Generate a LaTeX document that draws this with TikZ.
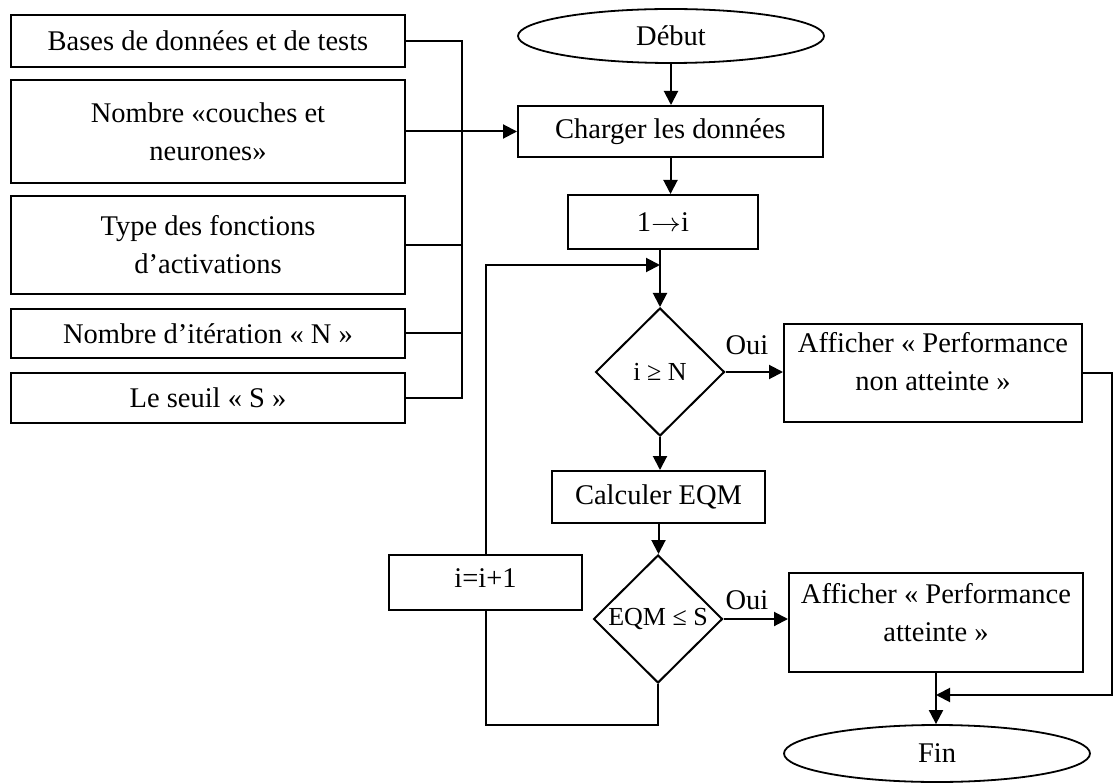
\documentclass[tikz,border=0pt]{standalone}
\usepackage{fontspec}
\setmainfont{Liberation Serif}
\usetikzlibrary{shapes.geometric,arrows.meta}

\begin{document}
\begin{tikzpicture}[x=1pt,y=-1pt,
  every node/.style={font=\fontsize{28.5}{38}\selectfont},
  box/.style={draw,line width=2pt,rectangle,inner sep=0pt,align=center},
  inbox/.style={box,minimum width=394pt},
  term/.style={draw,line width=1.8pt,ellipse,inner sep=0pt,minimum width=306pt,minimum height=54pt},
  test/.style={draw,line width=2pt,diamond,inner sep=0pt,minimum width=129pt,minimum height=128pt,
               font=\fontsize{26}{30}\selectfont},
  tag/.style={inner sep=0pt},
  link/.style={line width=2pt},
  flow/.style={line width=2pt,-{Triangle[length=14pt,width=14pt]}}
]
\useasboundingbox (0,0) rectangle (1113,783);

% input parameters
\node[inbox,minimum height=52pt]  (b1) at (208,41)    {Bases de données et de tests};
\node[inbox,minimum height=103pt] (b2) at (208,131.5) {Nombre «couches et\\neurones»};
\node[inbox,minimum height=98pt]  (b3) at (208,245)   {Type des fonctions\\d’activations};
\node[inbox,minimum height=49pt]  (b4) at (208,333.5) {Nombre d’itération « N »};
\node[inbox,minimum height=50pt]  (b5) at (208,398)   {Le seuil « S »};

% main flow
\node[term] (debut) at (671,36) {Début};
\node[box,minimum width=305pt,minimum height=51pt] (charger) at (670.5,131.5) {Charger les données};
\node[box,minimum width=190pt,minimum height=54pt] (onei) at (663,222)
  {1\scalebox{1.2}[1.05]{$\rightarrow$}i};
\node[test] (d1) at (660,372) {i ≥ N};
\node[box,minimum width=213pt,minimum height=52pt] (calc) at (658.5,497) {Calculer EQM};
\node[test] (d2) at (658,619) {EQM ≤ S};
\node[box,minimum width=193pt,text height=32pt,text depth=23pt] (inc) at (485.5,582.5) {i=i+1};
\node[box] (aff1) at (933,373)
  {\parbox[c][98pt][t]{298pt}{\centering\vspace*{8pt}Afficher « Performance\\non atteinte »}};
\node[box] (aff2) at (936,622.5)
  {\parbox[c][99pt][t]{294pt}{\centering\vspace*{10pt}Afficher « Performance\\atteinte »}};
\node[term,minimum height=57pt] (fin) at (937,753.5) {Fin};
\node[tag] (oui1) at (747,345) {Oui};
\node[tag] (oui2) at (747,600) {Oui};

% helper points
\coordinate (busT) at (462,41);
\coordinate (loopin) at (660,265);
\coordinate (loopbot) at (486,725);
\coordinate (rside) at (1111.5,695);

% parameter bus
\draw[link] (b1.east) -- (b1.east -| busT) -- (b5.east -| busT) -- (b5.east);
\draw[link] (b2.east) -- (b2.east -| busT);
\draw[link] (b3.east) -- (b3.east -| busT);
\draw[link] (b4.east) -- (b4.east -| busT);
\draw[flow] (b2.east -| busT) -- (charger.west);

% connectors
\draw[flow] (debut.south) -- (debut.south |- charger.north);
\draw[flow] (charger.south) -- (charger.south |- onei.north);
\draw[flow] (d1.north |- onei.south) -- (d1.north);
\draw[flow] (d1.east) -- (d1.east -| aff1.west);
\draw[flow] (d1.south) -- (d1.south |- calc.north);
\draw[flow] (calc.south) -- (calc.south |- d2.north);
\draw[flow] (d2.east) -- (d2.east -| aff2.west);
\draw[link] (d2.south) |- (loopbot) -- (loopbot |- inc.south);
\draw[flow] (loopbot |- inc.north) |- (loopin);
\draw[flow] (aff1.east) -| (rside) -- (rside -| aff2.south);
\draw[flow] (aff2.south) -- (aff2.south |- fin.north);
\end{tikzpicture}
\end{document}
